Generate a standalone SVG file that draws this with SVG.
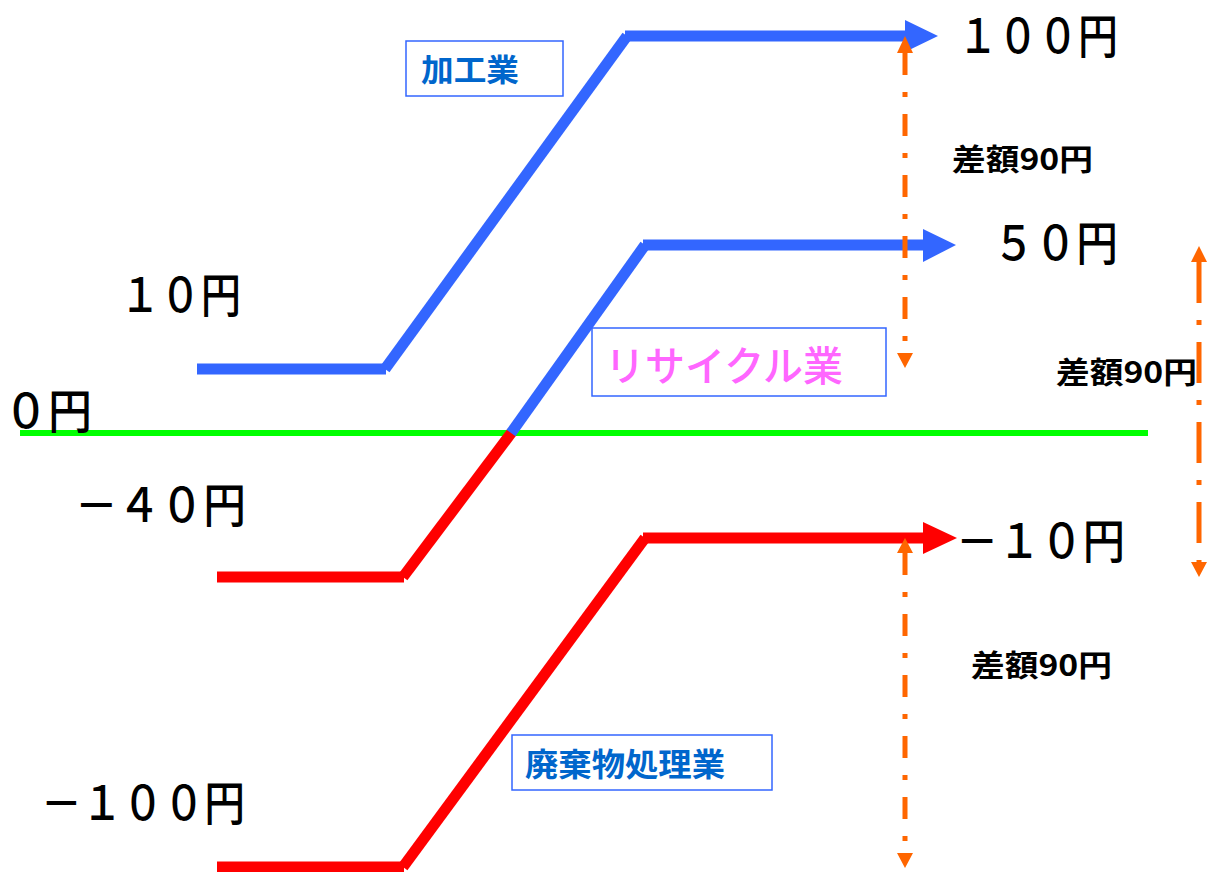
<svg xmlns="http://www.w3.org/2000/svg" width="1209" height="872" viewBox="0 0 1209 872">
<style>
.bl{stroke:#3366FF;stroke-width:11;fill:none;stroke-linecap:butt}
.rd{stroke:#FF0000;stroke-width:11;fill:none;stroke-linecap:butt}
.gr{stroke:#00FF00;stroke-width:6;fill:none}
.or{stroke:#FF6600;stroke-width:5;fill:none}
.big{font-family:"Noto Sans CJK JP","Noto Sans CJK SC",sans-serif;font-size:47px;font-weight:500;fill:#000}
.diff{font-family:"Noto Sans CJK JP","Noto Sans CJK SC",sans-serif;font-size:30px;font-weight:bold;fill:#000}
.box{fill:#fff;stroke:#3366FF;stroke-width:1.5}
.bt{font-family:"Noto Sans CJK JP","Noto Sans CJK SC",sans-serif;font-weight:bold;fill:#0066CC}
.pk{font-family:"Noto Sans CJK JP","Noto Sans CJK SC",sans-serif;font-weight:500;fill:#FF66FF}
</style>
<rect width="1209" height="872" fill="#fff"/>
<g id="connectors">
  <line class="gr" x1="20" y1="433" x2="1148" y2="433"/>
  <line class="bl" x1="197" y1="369" x2="386" y2="369"/>
  <line class="bl" x1="385" y1="369" x2="627" y2="36"/>
  <line class="bl" x1="625" y1="36" x2="906" y2="36"/>
  <polygon points="905,20 938,36 905,52" fill="#3366FF"/>
  <line class="rd" x1="217" y1="577" x2="404" y2="577"/>
  <line class="rd" x1="403" y1="577" x2="512" y2="432"/>
  <line class="bl" x1="511" y1="433" x2="645" y2="245"/>
  <line class="bl" x1="643" y1="245" x2="924" y2="245"/>
  <polygon points="923,229 956,245 923,262" fill="#3366FF"/>
  <line class="rd" x1="217" y1="867" x2="404" y2="867"/>
  <line class="rd" x1="403" y1="867" x2="645" y2="538"/>
  <line class="rd" x1="643" y1="538" x2="924" y2="538"/>
  <polygon points="923,522 957,538 923,554" fill="#FF0000"/>
  <line class="or" x1="905" y1="53" x2="905" y2="353" stroke-dasharray="22 17 5 17"/>
  <polygon points="897,53 905,36 913,53" fill="#FF6600"/>
  <polygon points="897,353 905,368 913,353" fill="#FF6600"/>
  <line class="or" x1="1199" y1="262" x2="1199" y2="562" stroke-dasharray="41 17 5 17"/>
  <polygon points="1191,262 1199,246 1207,262" fill="#FF6600"/>
  <polygon points="1191,562 1199,577 1207,562" fill="#FF6600"/>
  <line class="or" x1="905" y1="553" x2="905" y2="853" stroke-dasharray="22 17 5 17"/>
  <polygon points="897,553 905,538 913,553" fill="#FF6600"/>
  <polygon points="897,853 905,868 913,853" fill="#FF6600"/>
</g>
<g id="box-kakougyou">
  <rect class="box" x="406" y="41" width="157" height="55"/>
  <text class="bt" x="421" y="81" font-size="31" textLength="98" lengthAdjust="spacingAndGlyphs">加工業</text>
</g>
<g id="box-recycle">
  <rect class="box" x="592" y="328" width="294" height="68"/>
  <text class="pk" x="605" y="381" font-size="41" textLength="238" lengthAdjust="spacingAndGlyphs">リサイクル業</text>
</g>
<g id="box-haikibutsu">
  <rect class="box" x="512" y="735" width="260" height="55"/>
  <text class="bt" x="525" y="776" font-size="32" textLength="200" lengthAdjust="spacingAndGlyphs">廃棄物処理業</text>
</g>
<g id="labels">
  <text class="big" x="958" y="53" font-size="44" textLength="160" lengthAdjust="spacingAndGlyphs">１００円</text>
  <text class="big" x="993" y="260" textLength="125" lengthAdjust="spacingAndGlyphs">５０円</text>
  <text class="big" x="956" y="558" textLength="169" lengthAdjust="spacingAndGlyphs">－１０円</text>
  <text class="big" x="120" y="312" textLength="121" lengthAdjust="spacingAndGlyphs">１０円</text>
  <text class="big" x="4" y="428" textLength="88" lengthAdjust="spacingAndGlyphs">０円</text>
  <text class="big" x="75" y="522" textLength="171" lengthAdjust="spacingAndGlyphs">－４０円</text>
  <text class="big" x="41" y="820" textLength="204" lengthAdjust="spacingAndGlyphs">－１００円</text>
</g>
<g id="diff-labels">
  <text class="diff" x="952" y="170" textLength="141" lengthAdjust="spacingAndGlyphs">差額90円</text>
  <text class="diff" x="1056" y="383" textLength="141" lengthAdjust="spacingAndGlyphs">差額90円</text>
  <text class="diff" x="971" y="676" textLength="141" lengthAdjust="spacingAndGlyphs">差額90円</text>
</g>
</svg>
